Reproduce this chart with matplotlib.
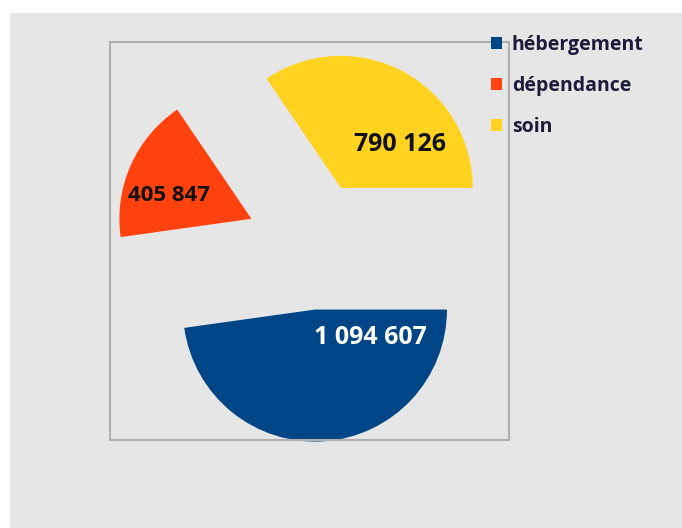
import numpy as np
import matplotlib.pyplot as plt
from matplotlib.patches import Rectangle

# data
categories = ['hébergement', 'dépendance', 'soin']
values = [1094607, 405847, 790126]
value_labels = ['1 094 607', '405 847', '790 126']

colors = ['#004586', '#FF420E', '#FFD320']
label_colors = ['white', '#111111', '#111111']
label_sizes = [18, 16, 18]
# where each value label sits inside its wedge (angle in degrees, distance in radii)
label_offsets = [(-26.6, 0.466), (164, 0.649), (36.5, 0.558)]

W, H = 682, 528
fig = plt.figure(figsize=(W / 100, H / 100), dpi=100)
fig.patch.set_facecolor('white')
# grey chart area (leaves a thin white margin top and left)
fig.patches.append(Rectangle((10 / W, 0), 1, 1 - 13 / H, transform=fig.transFigure,
                             facecolor='#e6e6e6', edgecolor='none', zorder=-5))

# plot area box
ax = fig.add_axes([110 / W, 1 - 440 / H, 399 / W, 398 / H])
ax.set_facecolor('none')

wedges, _ = ax.pie(values, colors=colors, startangle=0, counterclock=False,
                   explode=[0.49, 0.49, 0.49], radius=1.0,
                   wedgeprops=dict(linewidth=0, clip_on=False))
ax.set_aspect('auto')
ax.set_xlim(-1.519, 1.504)
ax.set_ylim(-1.477, 1.538)

ax.set_frame_on(True)
for sp in ax.spines.values():
    sp.set_visible(True)
    sp.set_color('#b0b0b0')
    sp.set_linewidth(1.5)
ax.set_xticks([])
ax.set_yticks([])

# value labels
for w, txt, col, fs, (ang, dist) in zip(wedges, value_labels, label_colors, label_sizes, label_offsets):
    cx, cy = w.center
    a = np.deg2rad(ang)
    ax.text(cx + dist * np.cos(a), cy + dist * np.sin(a), txt, ha='center', va='center',
            color=col, fontsize=fs, fontweight='bold', family='Open Sans')

leg = fig.legend(wedges, categories, loc='upper left',
                 bbox_to_anchor=(491 / W, 1 - 35 / H), frameon=False,
                 borderpad=0, borderaxespad=0, handlelength=0.57, handleheight=0.57,
                 handletextpad=0.5, labelspacing=1.08,
                 prop=dict(family='Open Sans', weight='bold', size=14))
for t in leg.get_texts():
    t.set_color('#1c1c3a')

fig.savefig('out.png', dpi=100)
